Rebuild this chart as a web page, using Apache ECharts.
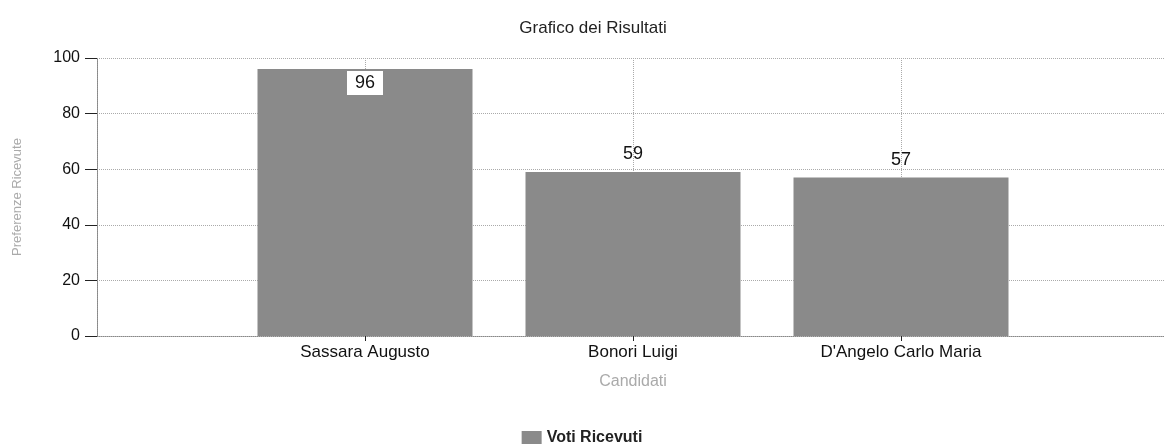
<!DOCTYPE html>
<html><head><meta charset="utf-8">
<script src="https://cdn.jsdelivr.net/npm/echarts@6/dist/echarts.min.js"></script>
<style>html,body{margin:0;padding:0;background:#fff}#c{width:1164px;height:444px}</style>
</head><body><div id="c"></div>
<script>
const chartTitle = 'Grafico dei Risultati';
const categories = ['', 'Sassara Augusto', 'Bonori Luigi', "D'Angelo Carlo Maria", ''];
const votes = [null, 96, 59, 57, null];
const seriesName = 'Voti Ricevuti';
const yTicks = [0, 20, 40, 60, 80, 100];
const xAxisName = 'Candidati';
const yAxisName = 'Preferenze Ricevute';

const font = 'Liberation Sans, Arial, sans-serif';
const chart = echarts.init(document.getElementById('c'));
chart.setOption({
  animation: false,
  backgroundColor: '#fff',
  title: { text: chartTitle, left: 588, top: 15, textAlign: 'center',
    textStyle: { fontFamily: font, fontSize: 17, fontWeight: 'normal', color: '#222' } },
  legend: { top: 425, left: 'center', itemWidth: 20, itemHeight: 14, itemGap: 8,
    icon: 'rect',
    textStyle: { fontFamily: font, fontSize: 16, fontWeight: 'bold', color: '#222' },
    data: [seriesName] },
  grid: { left: 97, top: 58, width: 1072, height: 278, outerBoundsMode: 'none', containLabel: false },
  xAxis: {
    type: 'category', data: categories, boundaryGap: false,
    name: xAxisName, nameLocation: 'middle', nameGap: 38,
    nameTextStyle: { fontFamily: font, fontSize: 16, color: '#aaa' },
    axisLine: { lineStyle: { color: '#888', type: 'dotted' } },
    axisTick: { show: true, length: 5, inside: false, lineStyle: { color: '#222' },
      interval: (i, v) => v !== '' },
    axisLabel: { fontFamily: font, fontSize: 17, color: '#111', margin: 8, interval: 0 },
    splitLine: { show: true, lineStyle: { color: '#aaa', type: 'dotted' } }
  },
  yAxis: {
    type: 'value', min: yTicks[0], max: yTicks[yTicks.length - 1], interval: yTicks[1] - yTicks[0],
    name: yAxisName, nameLocation: 'middle', nameGap: 73, nameRotate: 90,
    nameTextStyle: { fontFamily: font, fontSize: 13, color: '#aaa' },
    axisLine: { show: true, lineStyle: { color: '#888', type: 'dotted' } },
    axisTick: { show: true, length: 12, lineStyle: { color: '#222' } },
    axisLabel: { fontFamily: font, fontSize: 16, color: '#111', margin: 17 },
    splitLine: { show: true, lineStyle: { color: '#aaa', type: 'dotted' } }
  },
  series: [{
    name: seriesName, type: 'bar', barWidth: 215,
    itemStyle: { color: '#8a8a8a' },
    data: votes.map(v => v == null ? null : ({
      value: v,
      label: v > 90
        ? { position: 'insideTop', distance: 2, backgroundColor: '#fff', padding: [3, 8] }
        : { position: 'top', distance: 9 }
    })),
    label: { show: true, fontFamily: font, fontSize: 18, color: '#111' }
  }]
});
</script></body></html>
